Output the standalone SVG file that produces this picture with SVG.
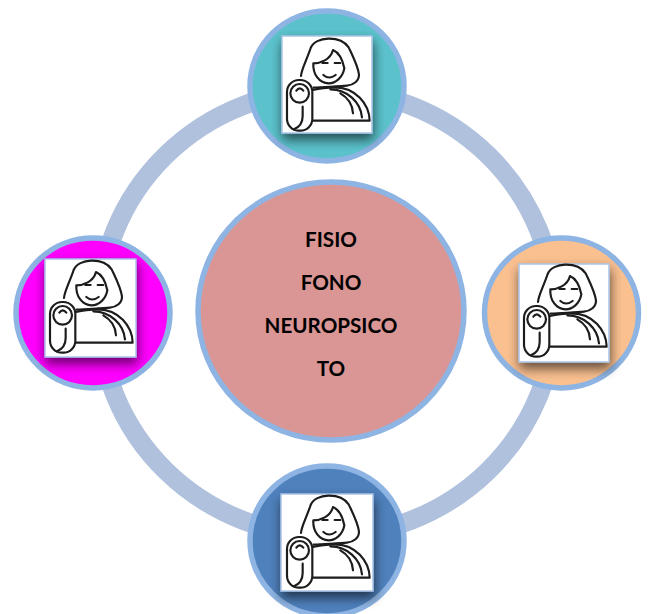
<svg xmlns="http://www.w3.org/2000/svg" width="650" height="614" viewBox="0 0 650 614">
<style>
.node{stroke:#8EB4E3;stroke-width:5.5}
.card{fill:#fff;stroke:#A9C4E8;stroke-width:1.5;filter:url(#shadow)}
.ink{fill:none;stroke:#1c1c1c;stroke-width:6.500;stroke-linecap:round;stroke-linejoin:round}
text{font-family:Lato,"Liberation Sans",sans-serif;font-weight:700;font-size:20.600px;fill:#000;text-anchor:middle}
</style>
<defs>
<filter id="shadow" x="-40%" y="-40%" width="180%" height="180%"><feGaussianBlur in="SourceAlpha" stdDeviation="6"/><feOffset dx="1" dy="6"/><feComponentTransfer><feFuncA type="linear" slope="0.6"/></feComponentTransfer><feMerge><feMergeNode/><feMergeNode in="SourceGraphic"/></feMerge></filter>
<g id="icon" transform="scale(0.3333)">
<path class="ink" d="M57 120C58 100 75 70 86 36C100 0 175 -2 200 34C212 60 228 90 231 116C231 135 215 147 195 149C170 152 130 152 95 155"/>
<path class="ink" d="M94 82C115 82 145 72 153 42C172 50 182 72 187 97C182 125 160 142 140 142C112 142 92 115 94 82Z"/>
<path class="ink" d="M121 81H137M158 81H175M124 117Q141 132 161 117"/>
<rect class="ink" x="15" y="132" width="76" height="152" rx="36" ry="36"/>
<circle class="ink" cx="53" cy="172" r="28"/>
<path class="ink" d="M43 164Q53 150 64 164M62 212V240C62 262 50 274 36 280"/>
<path class="ink" d="M93 162C115 156 140 154 160 154C220 154 262 205 263 254H93M145 160C195 160 236 198 240 244M175 172C198 185 212 208 213 232"/>
</g>
</defs>
<g id="connectors"><ellipse cx="327" cy="313" rx="228" ry="223" fill="none" stroke="#B0C1DE" stroke-width="19"/></g>
<g id="node-center"><ellipse class="node" cx="331" cy="311" rx="133" ry="129" fill="#D99694"/>
<text x="331" y="247">FISIO</text><text x="331" y="290">FONO</text><text x="331" y="333">NEUROPSICO</text><text x="331" y="376">TO</text></g>
<g id="node-top"><ellipse class="node" cx="327" cy="86" rx="77" ry="75" fill="#5BC2CC"/><rect class="card" x="282" y="36" width="90" height="97"/><use href="#icon" x="282" y="36"/></g>
<g id="node-left"><ellipse class="node" cx="93" cy="313" rx="77" ry="75" fill="#FF00FF"/><rect class="card" x="45" y="259" width="91" height="98"/><use href="#icon" x="45" y="258"/></g>
<g id="node-right"><ellipse class="node" cx="561.500" cy="313" rx="77" ry="75" fill="#FAC090"/><rect class="card" x="519" y="264" width="90" height="98"/><use href="#icon" x="519" y="262"/></g>
<g id="node-bottom"><ellipse class="node" cx="327" cy="541" rx="77" ry="75" fill="#4F81BD"/><rect class="card" x="281" y="494" width="92" height="97"/><use href="#icon" x="282" y="493"/></g>
</svg>
